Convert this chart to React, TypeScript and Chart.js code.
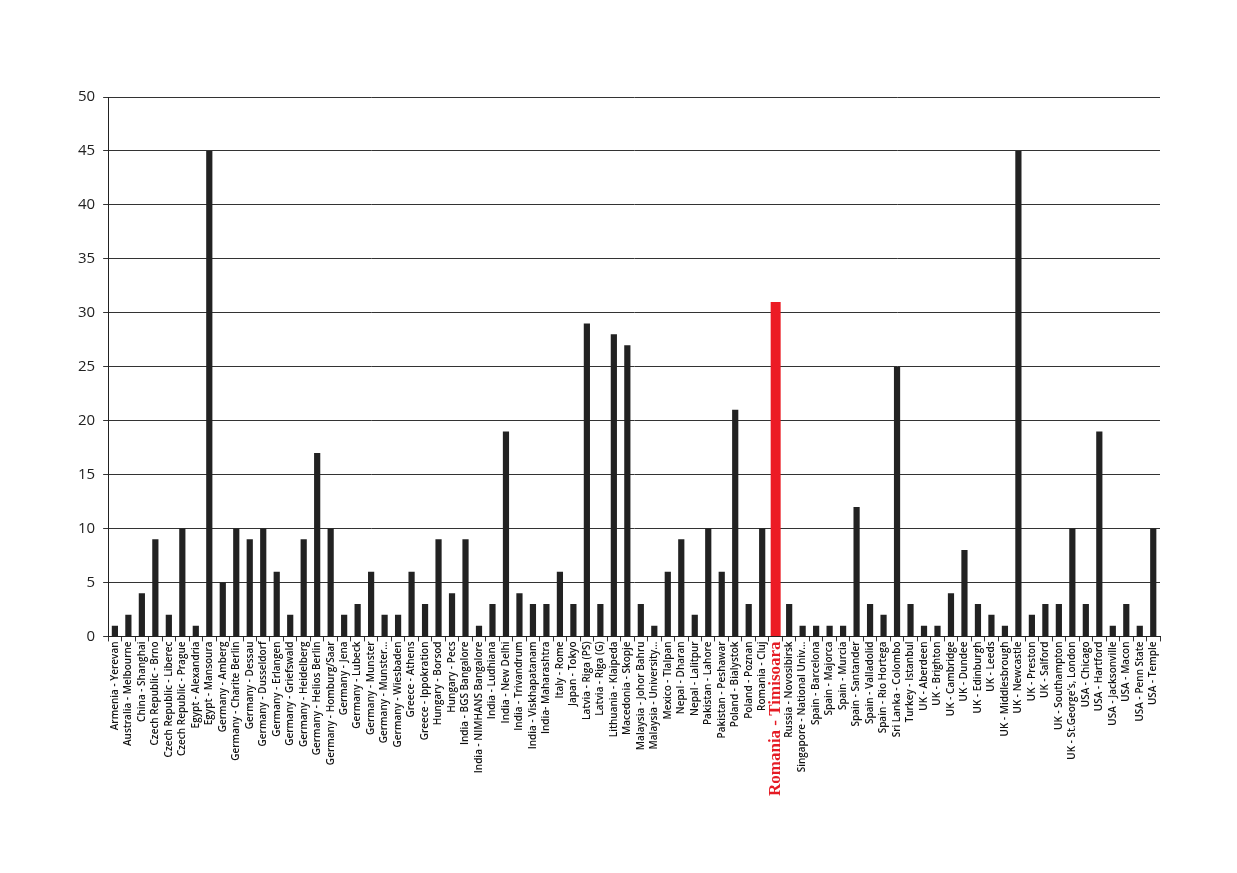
import React, { useEffect, useRef } from 'react';
import { Chart, registerables } from 'chart.js';
Chart.register(...registerables);

const categories: string[] = [
  'Armenia - Yerevan', 'Australia - Melbourne', 'China - Shanghai', 'Czech Republic - Brno',
  'Czech Republic - Liberec', 'Czech Republic - Prague', 'Egypt - Alexandria', 'Egypt - Mansoura',
  'Germany - Amberg', 'Germany - Charite Berlin', 'Germany - Dessau', 'Germany - Dusseldorf',
  'Germany - Erlangen', 'Germany - Griefswald', 'Germany - Heidelberg', 'Germany - Helios Berlin',
  'Germany - Homburg/Saar', 'Germany - Jena', 'Germany - Lubeck', 'Germany - Munster',
  'Germany - Munster...', 'Germany - Wiesbaden', 'Greece - Athens', 'Greece - Ippokration',
  'Hungary - Borsod', 'Hungary - Pecs', 'India - BGS Bangalore', 'India - NIMHANS Bangalore',
  'India - Ludhiana', 'India - New Delhi', 'India - Trivandrum', 'India - Viskhapatanam',
  'India- Maharashtra', 'Italy - Rome', 'Japan - Tokyo', 'Latvia - Riga (PS)',
  'Latvia - Riga (G)', 'Lithuania - Klaipeda', 'Macedonia - Skopje', 'Malaysia - Johor Bahru',
  'Malaysia - University...', 'Mexico - Tlalpan', 'Nepal - Dharan', 'Nepal - Lalitpur',
  'Pakistan - Lahore', 'Pakistan - Peshawar', 'Poland - Bialystok', 'Poland - Poznan',
  'Romania - Cluj', 'Romania - Timisoara', 'Russia - Novosibirsk', 'Singapore - National Univ...',
  'Spain - Barcelona', 'Spain - Majorca', 'Spain - Murcia', 'Spain - Santander',
  'Spain - Valladolid', 'Spain - Rio Hortega', 'Sri Lanka - Colombo', 'Turkey - Istanbul',
  'UK - Aberdeen', 'UK - Brighton', 'UK - Cambridge', 'UK - Dundee',
  'UK - Edinburgh', 'UK - Leeds', 'UK - Middlesbrough', 'UK - Newcastle',
  'UK - Preston', 'UK - Salford', 'UK - Southampton', "UK - St.George's, London",
  'USA - Chicago', 'USA - Hartford', 'USA - Jacksonville', 'USA - Macon',
  'USA - Penn State', 'USA - Temple',
];

const values: number[] = [
  1, 2, 4, 9, 2, 10, 1, 45,
  5, 10, 9, 10, 6, 2, 9, 17,
  10, 2, 3, 6, 2, 2, 6, 3,
  9, 4, 9, 1, 3, 19, 4, 3,
  3, 6, 3, 29, 3, 28, 27, 3,
  1, 6, 9, 2, 10, 6, 21, 3,
  10, 31, 3, 1, 1, 1, 1, 12,
  3, 2, 25, 3, 1, 1, 4, 8,
  3, 2, 1, 45, 2, 3, 3, 10,
  3, 19, 1, 3, 1, 10,
];

const highlight = 'Romania - Timisoara';
const yMin = 0;
const yMax = 50;
const yStep = 5;

export default function App() {
  const ref = useRef<HTMLCanvasElement | null>(null);
  useEffect(() => {
    document.body.style.margin = '0';
    const hi = categories.indexOf(highlight);
    const normal = values.map((v, i) => (i === hi ? null : v));
    const red = values.map((v, i) => (i === hi ? v : null));
    const chart = new Chart(ref.current!, {
      type: 'bar',
      data: {
        labels: categories,
        datasets: [
          {
            data: normal,
            backgroundColor: '#222222',
            barPercentage: 0.46,
            categoryPercentage: 1,
            grouped: false,
          } as any,
          {
            data: red,
            backgroundColor: '#ec1c24',
            barPercentage: 0.74,
            categoryPercentage: 1,
            grouped: false,
          } as any,
        ],
      },
      options: {
        animation: false,
        responsive: false,
        maintainAspectRatio: false,
        layout: { padding: { left: 70, top: 97, right: 77, bottom: 77 } },
        plugins: { legend: { display: false }, tooltip: { enabled: false } },
        scales: {
          x: {
            offset: true,
            grid: {
              display: true,
              drawOnChartArea: false,
              drawTicks: true,
              tickLength: 5,
              color: '#333',
              offset: true,
            },
            border: { display: true, color: '#222', width: 1 },
            ticks: {
              autoSkip: false,
              maxRotation: 90,
              minRotation: 90,
              padding: 0,
              color: (ctx: any) => (ctx.index === hi ? '#e51b24' : '#111111'),
              font: (ctx: any) =>
                ctx.index === hi
                  ? { family: 'Liberation Serif', size: 17, weight: 'bold' }
                  : { family: 'Open Sans', size: 10, weight: '600' },
            },
          },
          y: {
            min: yMin,
            max: yMax,
            grid: { color: '#333', lineWidth: 1, tickLength: 5 },
            border: { display: true, color: '#222', width: 1 },
            ticks: {
              stepSize: yStep,
              padding: 8,
              color: '#222',
              font: { family: 'Open Sans', size: 15 },
            },
          },
        },
      },
    });
    return () => chart.destroy();
  }, []);
  return (
    <div style={{ width: 1237, height: 873, background: '#fff' }}>
      <canvas ref={ref} width={1237} height={873} style={{ display: 'block' }} />
    </div>
  );
}
